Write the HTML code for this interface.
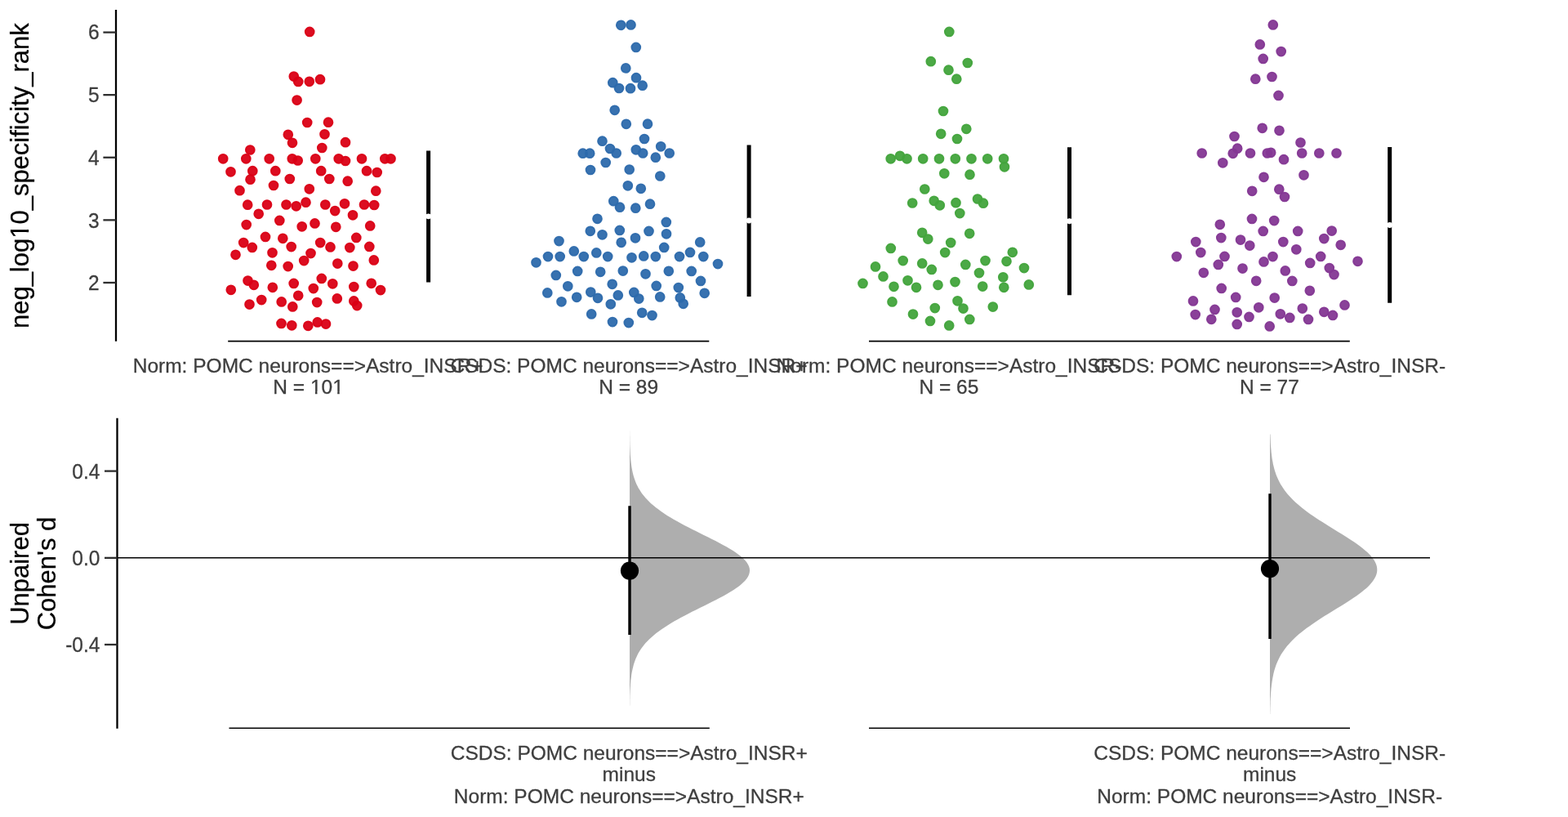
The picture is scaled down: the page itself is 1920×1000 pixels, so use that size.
<!DOCTYPE html>
<html lang="en">
<head>
<meta charset="utf-8">
<title>Estimation plot</title>
<style>
html,body{margin:0;padding:0;background:#fff;}
body{width:1920px;height:1000px;overflow:hidden;}
svg{display:block;font-family:"Liberation Sans",Arial,Helvetica,sans-serif;}
.tick{fill:#3e3e3e;stroke:#3e3e3e;stroke-width:0.3px;font-size:24.5px;}
.ylab{fill:#000;stroke:#000;stroke-width:0.25px;font-size:31.0px;}
</style>
</head>
<body>
<svg width="1920" height="1000" viewBox="0 0 1920 1000">
<rect width="1920" height="1000" fill="#fff"/>

<!-- swarm plot -->
<g class="swarm g1" fill="#da0015" stroke="#da0015" stroke-width="1.8" fill-opacity="0.95" stroke-opacity="0.95">
<circle cx="379.2" cy="38.9" r="5.45"/><circle cx="359.8" cy="93.6" r="5.45"/><circle cx="365.2" cy="99.9" r="5.45"/><circle cx="378.8" cy="99.8" r="5.45"/><circle cx="392.0" cy="97.2" r="5.45"/><circle cx="363.6" cy="122.6" r="5.45"/><circle cx="376.2" cy="150.0" r="5.45"/><circle cx="402.0" cy="149.7" r="5.45"/>
<circle cx="352.8" cy="164.8" r="5.45"/><circle cx="397.5" cy="164.3" r="5.45"/><circle cx="358.0" cy="174.8" r="5.45"/><circle cx="423.0" cy="174.2" r="5.45"/><circle cx="394.3" cy="181.0" r="5.45"/><circle cx="306.3" cy="183.5" r="5.45"/><circle cx="273.2" cy="194.3" r="5.45"/><circle cx="301.3" cy="194.3" r="5.45"/>
<circle cx="329.7" cy="194.3" r="5.45"/><circle cx="357.8" cy="194.3" r="5.45"/><circle cx="364.7" cy="196.5" r="5.45"/><circle cx="386.3" cy="194.3" r="5.45"/><circle cx="414.7" cy="194.3" r="5.45"/><circle cx="423.0" cy="197.0" r="5.45"/><circle cx="443.0" cy="194.3" r="5.45"/><circle cx="471.3" cy="194.3" r="5.45"/>
<circle cx="478.5" cy="194.3" r="5.45"/><circle cx="282.5" cy="210.3" r="5.45"/><circle cx="309.3" cy="209.2" r="5.45"/><circle cx="337.3" cy="209.2" r="5.45"/><circle cx="393.2" cy="209.2" r="5.45"/><circle cx="449.0" cy="209.2" r="5.45"/><circle cx="461.7" cy="211.0" r="5.45"/><circle cx="306.5" cy="219.7" r="5.45"/>
<circle cx="354.8" cy="219.0" r="5.45"/><circle cx="403.3" cy="219.0" r="5.45"/><circle cx="425.7" cy="221.7" r="5.45"/><circle cx="335.0" cy="227.0" r="5.45"/><circle cx="378.8" cy="231.3" r="5.45"/><circle cx="293.5" cy="233.2" r="5.45"/><circle cx="460.3" cy="233.7" r="5.45"/><circle cx="303.2" cy="250.7" r="5.45"/>
<circle cx="327.0" cy="250.5" r="5.45"/><circle cx="350.5" cy="250.5" r="5.45"/><circle cx="362.7" cy="252.3" r="5.45"/><circle cx="374.5" cy="247.7" r="5.45"/><circle cx="398.3" cy="250.5" r="5.45"/><circle cx="422.0" cy="249.3" r="5.45"/><circle cx="446.0" cy="250.5" r="5.45"/><circle cx="458.2" cy="251.0" r="5.45"/>
<circle cx="410.2" cy="258.1" r="5.45"/><circle cx="316.7" cy="261.8" r="5.45"/><circle cx="432.0" cy="263.3" r="5.45"/><circle cx="342.3" cy="269.9" r="5.45"/><circle cx="301.7" cy="275.1" r="5.45"/><circle cx="385.5" cy="273.4" r="5.45"/><circle cx="369.7" cy="277.3" r="5.45"/><circle cx="411.3" cy="277.8" r="5.45"/>
<circle cx="453.2" cy="276.4" r="5.45"/><circle cx="325.0" cy="289.9" r="5.45"/><circle cx="346.3" cy="291.8" r="5.45"/><circle cx="436.3" cy="290.9" r="5.45"/><circle cx="298.2" cy="297.1" r="5.45"/><circle cx="392.2" cy="297.1" r="5.45"/><circle cx="308.8" cy="302.9" r="5.45"/><circle cx="356.7" cy="302.1" r="5.45"/>
<circle cx="404.5" cy="302.4" r="5.45"/><circle cx="428.3" cy="303.1" r="5.45"/><circle cx="452.3" cy="301.9" r="5.45"/><circle cx="333.5" cy="309.3" r="5.45"/><circle cx="380.5" cy="310.1" r="5.45"/><circle cx="288.5" cy="311.8" r="5.45"/><circle cx="372.2" cy="319.1" r="5.45"/><circle cx="457.8" cy="318.4" r="5.45"/>
<circle cx="332.3" cy="324.8" r="5.45"/><circle cx="352.7" cy="326.1" r="5.45"/><circle cx="413.3" cy="322.6" r="5.45"/><circle cx="432.5" cy="325.6" r="5.45"/><circle cx="393.8" cy="340.9" r="5.45"/><circle cx="303.5" cy="343.6" r="5.45"/><circle cx="310.8" cy="348.8" r="5.45"/><circle cx="359.7" cy="346.9" r="5.45"/>
<circle cx="407.3" cy="347.3" r="5.45"/><circle cx="454.7" cy="346.8" r="5.45"/><circle cx="333.8" cy="351.8" r="5.45"/><circle cx="383.8" cy="353.1" r="5.45"/><circle cx="433.3" cy="351.1" r="5.45"/><circle cx="282.8" cy="354.8" r="5.45"/><circle cx="466.0" cy="355.1" r="5.45"/><circle cx="365.2" cy="361.8" r="5.45"/>
<circle cx="320.2" cy="367.1" r="5.45"/><circle cx="412.8" cy="365.4" r="5.45"/><circle cx="433.3" cy="368.4" r="5.45"/><circle cx="344.7" cy="369.4" r="5.45"/><circle cx="388.2" cy="370.1" r="5.45"/><circle cx="305.5" cy="372.6" r="5.45"/><circle cx="437.2" cy="374.1" r="5.45"/><circle cx="358.3" cy="375.4" r="5.45"/>
<circle cx="344.5" cy="395.9" r="5.45"/><circle cx="357.3" cy="398.3" r="5.45"/><circle cx="377.3" cy="398.8" r="5.45"/><circle cx="388.7" cy="394.4" r="5.45"/><circle cx="399.0" cy="396.6" r="5.45"/>
</g>
<g class="swarm g2" fill="#2d6aac" stroke="#2d6aac" stroke-width="1.8" fill-opacity="0.95" stroke-opacity="0.95">
<circle cx="760.3" cy="30.8" r="5.45"/><circle cx="772.5" cy="30.4" r="5.45"/><circle cx="778.8" cy="57.9" r="5.45"/><circle cx="766.3" cy="83.4" r="5.45"/><circle cx="779.0" cy="95.2" r="5.45"/><circle cx="750.3" cy="101.2" r="5.45"/><circle cx="758.0" cy="108.0" r="5.45"/><circle cx="772.0" cy="108.2" r="5.45"/>
<circle cx="786.7" cy="104.7" r="5.45"/><circle cx="752.7" cy="134.8" r="5.45"/><circle cx="766.8" cy="151.8" r="5.45"/><circle cx="793.0" cy="151.7" r="5.45"/><circle cx="789.0" cy="170.0" r="5.45"/><circle cx="737.5" cy="172.7" r="5.45"/><circle cx="809.2" cy="179.3" r="5.45"/><circle cx="747.0" cy="182.0" r="5.45"/>
<circle cx="778.8" cy="183.3" r="5.45"/><circle cx="713.7" cy="187.7" r="5.45"/><circle cx="722.2" cy="187.7" r="5.45"/><circle cx="754.7" cy="187.5" r="5.45"/><circle cx="787.2" cy="187.5" r="5.45"/><circle cx="819.7" cy="187.5" r="5.45"/><circle cx="802.8" cy="192.7" r="5.45"/><circle cx="741.7" cy="199.0" r="5.45"/>
<circle cx="723.0" cy="208.0" r="5.45"/><circle cx="770.7" cy="207.5" r="5.45"/><circle cx="808.3" cy="215.5" r="5.45"/><circle cx="768.8" cy="227.3" r="5.45"/><circle cx="784.8" cy="230.8" r="5.45"/><circle cx="751.3" cy="246.2" r="5.45"/><circle cx="759.0" cy="253.7" r="5.45"/><circle cx="778.3" cy="254.7" r="5.45"/>
<circle cx="796.0" cy="249.7" r="5.45"/><circle cx="731.5" cy="267.8" r="5.45"/><circle cx="815.8" cy="271.9" r="5.45"/><circle cx="722.8" cy="282.8" r="5.45"/><circle cx="737.5" cy="287.3" r="5.45"/><circle cx="758.8" cy="281.9" r="5.45"/><circle cx="794.5" cy="282.9" r="5.45"/><circle cx="816.0" cy="286.3" r="5.45"/>
<circle cx="778.0" cy="291.3" r="5.45"/><circle cx="684.5" cy="295.1" r="5.45"/><circle cx="760.7" cy="296.8" r="5.45"/><circle cx="857.2" cy="296.4" r="5.45"/><circle cx="813.2" cy="302.9" r="5.45"/><circle cx="702.8" cy="307.4" r="5.45"/><circle cx="730.3" cy="309.4" r="5.45"/><circle cx="845.0" cy="308.9" r="5.45"/>
<circle cx="671.0" cy="314.1" r="5.45"/><circle cx="685.7" cy="314.1" r="5.45"/><circle cx="714.8" cy="314.1" r="5.45"/><circle cx="744.2" cy="314.1" r="5.45"/><circle cx="773.5" cy="315.3" r="5.45"/><circle cx="788.2" cy="313.4" r="5.45"/><circle cx="802.8" cy="314.1" r="5.45"/><circle cx="832.0" cy="314.1" r="5.45"/>
<circle cx="861.3" cy="314.1" r="5.45"/><circle cx="656.5" cy="321.3" r="5.45"/><circle cx="879.0" cy="323.1" r="5.45"/><circle cx="707.2" cy="331.9" r="5.45"/><circle cx="735.2" cy="332.8" r="5.45"/><circle cx="762.8" cy="331.6" r="5.45"/><circle cx="790.5" cy="335.3" r="5.45"/><circle cx="818.8" cy="331.8" r="5.45"/>
<circle cx="846.7" cy="331.9" r="5.45"/><circle cx="680.8" cy="336.9" r="5.45"/><circle cx="749.7" cy="347.8" r="5.45"/><circle cx="695.3" cy="350.3" r="5.45"/><circle cx="803.7" cy="349.9" r="5.45"/><circle cx="858.0" cy="343.9" r="5.45"/><circle cx="830.8" cy="352.1" r="5.45"/><circle cx="670.3" cy="358.4" r="5.45"/>
<circle cx="723.3" cy="357.6" r="5.45"/><circle cx="776.3" cy="357.9" r="5.45"/><circle cx="862.7" cy="358.8" r="5.45"/><circle cx="756.8" cy="361.4" r="5.45"/><circle cx="706.2" cy="363.8" r="5.45"/><circle cx="732.0" cy="364.8" r="5.45"/><circle cx="782.3" cy="365.6" r="5.45"/><circle cx="808.2" cy="363.4" r="5.45"/>
<circle cx="832.8" cy="364.4" r="5.45"/><circle cx="687.5" cy="369.3" r="5.45"/><circle cx="747.8" cy="372.3" r="5.45"/><circle cx="836.7" cy="371.8" r="5.45"/><circle cx="724.2" cy="384.4" r="5.45"/><circle cx="786.2" cy="382.8" r="5.45"/><circle cx="798.5" cy="386.1" r="5.45"/><circle cx="750.0" cy="394.1" r="5.45"/>
<circle cx="769.8" cy="395.1" r="5.45"/>
</g>
<g class="swarm g3" fill="#42a43c" stroke="#42a43c" stroke-width="1.8" fill-opacity="0.95" stroke-opacity="0.95">
<circle cx="1162.3" cy="38.9" r="5.45"/><circle cx="1139.8" cy="75.2" r="5.45"/><circle cx="1184.8" cy="77.0" r="5.45"/><circle cx="1161.5" cy="85.7" r="5.45"/><circle cx="1171.3" cy="96.7" r="5.45"/><circle cx="1155.0" cy="136.0" r="5.45"/><circle cx="1183.3" cy="157.8" r="5.45"/><circle cx="1152.2" cy="163.8" r="5.45"/>
<circle cx="1172.0" cy="170.0" r="5.45"/><circle cx="1090.7" cy="194.3" r="5.45"/><circle cx="1102.0" cy="190.8" r="5.45"/><circle cx="1110.5" cy="194.3" r="5.45"/><circle cx="1130.2" cy="194.3" r="5.45"/><circle cx="1150.0" cy="194.3" r="5.45"/><circle cx="1169.8" cy="194.3" r="5.45"/><circle cx="1189.5" cy="194.3" r="5.45"/>
<circle cx="1209.2" cy="194.3" r="5.45"/><circle cx="1229.0" cy="194.3" r="5.45"/><circle cx="1230.0" cy="204.3" r="5.45"/><circle cx="1156.3" cy="212.3" r="5.45"/><circle cx="1187.5" cy="213.7" r="5.45"/><circle cx="1132.3" cy="231.5" r="5.45"/><circle cx="1117.2" cy="248.5" r="5.45"/><circle cx="1143.7" cy="245.8" r="5.45"/>
<circle cx="1150.8" cy="251.3" r="5.45"/><circle cx="1170.5" cy="248.2" r="5.45"/><circle cx="1197.0" cy="243.5" r="5.45"/><circle cx="1204.0" cy="248.7" r="5.45"/><circle cx="1175.3" cy="261.1" r="5.45"/><circle cx="1129.2" cy="284.8" r="5.45"/><circle cx="1136.3" cy="292.6" r="5.45"/><circle cx="1187.2" cy="285.8" r="5.45"/>
<circle cx="1164.2" cy="297.1" r="5.45"/><circle cx="1090.8" cy="303.9" r="5.45"/><circle cx="1157.2" cy="309.1" r="5.45"/><circle cx="1239.8" cy="308.8" r="5.45"/><circle cx="1105.7" cy="319.1" r="5.45"/><circle cx="1129.2" cy="322.4" r="5.45"/><circle cx="1206.5" cy="319.1" r="5.45"/><circle cx="1232.5" cy="319.8" r="5.45"/>
<circle cx="1182.3" cy="323.9" r="5.45"/><circle cx="1072.0" cy="326.4" r="5.45"/><circle cx="1140.8" cy="329.9" r="5.45"/><circle cx="1254.0" cy="328.1" r="5.45"/><circle cx="1199.0" cy="334.1" r="5.45"/><circle cx="1081.5" cy="338.4" r="5.45"/><circle cx="1228.3" cy="339.3" r="5.45"/><circle cx="1111.5" cy="343.3" r="5.45"/>
<circle cx="1169.5" cy="345.1" r="5.45"/><circle cx="1056.5" cy="346.9" r="5.45"/><circle cx="1148.5" cy="348.8" r="5.45"/><circle cx="1259.8" cy="348.4" r="5.45"/><circle cx="1094.5" cy="350.8" r="5.45"/><circle cx="1122.0" cy="351.8" r="5.45"/><circle cx="1203.2" cy="350.6" r="5.45"/><circle cx="1229.3" cy="351.8" r="5.45"/>
<circle cx="1092.5" cy="369.4" r="5.45"/><circle cx="1172.5" cy="368.3" r="5.45"/><circle cx="1144.8" cy="377.1" r="5.45"/><circle cx="1179.5" cy="377.6" r="5.45"/><circle cx="1215.8" cy="375.6" r="5.45"/><circle cx="1118.0" cy="384.6" r="5.45"/><circle cx="1139.0" cy="392.9" r="5.45"/><circle cx="1187.3" cy="390.9" r="5.45"/>
<circle cx="1162.2" cy="398.4" r="5.45"/>
</g>
<g class="swarm g4" fill="#843794" stroke="#843794" stroke-width="1.8" fill-opacity="0.95" stroke-opacity="0.95">
<circle cx="1558.8" cy="30.4" r="5.45"/><circle cx="1542.8" cy="54.4" r="5.45"/><circle cx="1568.7" cy="63.1" r="5.45"/><circle cx="1546.7" cy="71.9" r="5.45"/><circle cx="1537.3" cy="96.7" r="5.45"/><circle cx="1557.5" cy="94.0" r="5.45"/><circle cx="1565.5" cy="116.9" r="5.45"/><circle cx="1545.7" cy="156.8" r="5.45"/>
<circle cx="1566.5" cy="159.8" r="5.45"/><circle cx="1511.5" cy="167.0" r="5.45"/><circle cx="1592.5" cy="174.5" r="5.45"/><circle cx="1515.2" cy="181.7" r="5.45"/><circle cx="1471.7" cy="187.5" r="5.45"/><circle cx="1509.7" cy="187.8" r="5.45"/><circle cx="1531.0" cy="187.5" r="5.45"/><circle cx="1551.8" cy="187.5" r="5.45"/>
<circle cx="1556.2" cy="186.8" r="5.45"/><circle cx="1594.2" cy="187.5" r="5.45"/><circle cx="1615.3" cy="187.5" r="5.45"/><circle cx="1636.5" cy="187.5" r="5.45"/><circle cx="1572.0" cy="195.2" r="5.45"/><circle cx="1497.3" cy="199.3" r="5.45"/><circle cx="1547.5" cy="216.8" r="5.45"/><circle cx="1596.5" cy="214.3" r="5.45"/>
<circle cx="1533.2" cy="233.8" r="5.45"/><circle cx="1566.3" cy="231.7" r="5.45"/><circle cx="1573.0" cy="241.0" r="5.45"/><circle cx="1533.0" cy="267.9" r="5.45"/><circle cx="1560.2" cy="270.1" r="5.45"/><circle cx="1493.8" cy="274.8" r="5.45"/><circle cx="1546.7" cy="282.9" r="5.45"/><circle cx="1589.2" cy="282.9" r="5.45"/>
<circle cx="1630.7" cy="282.6" r="5.45"/><circle cx="1495.3" cy="291.1" r="5.45"/><circle cx="1519.0" cy="293.6" r="5.45"/><circle cx="1621.3" cy="292.1" r="5.45"/><circle cx="1464.3" cy="296.1" r="5.45"/><circle cx="1571.3" cy="296.1" r="5.45"/><circle cx="1530.3" cy="300.6" r="5.45"/><circle cx="1641.7" cy="299.8" r="5.45"/>
<circle cx="1587.3" cy="305.3" r="5.45"/><circle cx="1470.3" cy="309.1" r="5.45"/><circle cx="1440.8" cy="314.1" r="5.45"/><circle cx="1499.5" cy="313.9" r="5.45"/><circle cx="1558.5" cy="314.1" r="5.45"/><circle cx="1617.2" cy="313.9" r="5.45"/><circle cx="1662.5" cy="319.8" r="5.45"/><circle cx="1547.5" cy="320.4" r="5.45"/>
<circle cx="1604.2" cy="321.9" r="5.45"/><circle cx="1491.8" cy="323.9" r="5.45"/><circle cx="1521.5" cy="328.6" r="5.45"/><circle cx="1627.8" cy="328.1" r="5.45"/><circle cx="1573.8" cy="331.4" r="5.45"/><circle cx="1473.8" cy="333.8" r="5.45"/><circle cx="1633.5" cy="336.1" r="5.45"/><circle cx="1538.2" cy="343.8" r="5.45"/>
<circle cx="1582.3" cy="343.9" r="5.45"/><circle cx="1495.7" cy="352.9" r="5.45"/><circle cx="1603.8" cy="355.8" r="5.45"/><circle cx="1513.2" cy="363.9" r="5.45"/><circle cx="1560.7" cy="364.6" r="5.45"/><circle cx="1461.0" cy="368.4" r="5.45"/><circle cx="1646.5" cy="373.4" r="5.45"/><circle cx="1541.3" cy="376.3" r="5.45"/>
<circle cx="1594.8" cy="377.6" r="5.45"/><circle cx="1487.5" cy="378.9" r="5.45"/><circle cx="1514.7" cy="382.3" r="5.45"/><circle cx="1621.3" cy="381.8" r="5.45"/><circle cx="1463.7" cy="385.1" r="5.45"/><circle cx="1567.8" cy="384.3" r="5.45"/><circle cx="1632.0" cy="385.9" r="5.45"/><circle cx="1529.5" cy="387.9" r="5.45"/>
<circle cx="1579.3" cy="388.9" r="5.45"/><circle cx="1483.3" cy="390.8" r="5.45"/><circle cx="1602.0" cy="390.9" r="5.45"/><circle cx="1514.7" cy="396.9" r="5.45"/><circle cx="1554.7" cy="399.4" r="5.45"/>
</g>
<g stroke="#000" stroke-width="5" fill="none"><path d="M524.6,184.5V345.5"/><path d="M917.1,177.5V363"/><path d="M1309.5,180.3V361.2"/><path d="M1701.7,180V370.8"/></g><g fill="#fff"><circle cx="524.6" cy="264.85" r="3.45"/><circle cx="917.1" cy="269.95" r="3.45"/><circle cx="1309.5" cy="270.75" r="3.45"/><circle cx="1701.7" cy="275.45" r="3.45"/></g>
<g stroke="#000" fill="none">
<path d="M142,12V417.8" stroke-width="2.3"/>
<path d="M279.2,417.6H868.3M1064,417.6H1652.8" stroke-width="1.55"/>
</g>
<g stroke="#2e2e2e" stroke-width="2.3" fill="none"><path d="M126.4,39.6H142"/><path d="M126.4,116.15H142"/><path d="M126.4,192.75H142"/><path d="M126.4,269.35H142"/><path d="M126.4,346.0H142"/></g>
<text class="tick" text-anchor="end" transform="translate(121.6,48.3) scale(1,1.02)">6</text>
<text class="tick" text-anchor="end" transform="translate(121.6,125.3) scale(1,1.02)">5</text>
<text class="tick" text-anchor="end" transform="translate(121.6,202.3) scale(1,1.02)">4</text>
<text class="tick" text-anchor="end" transform="translate(121.6,279.3) scale(1,1.02)">3</text>
<text class="tick" text-anchor="end" transform="translate(121.6,355.3) scale(1,1.02)">2</text>
<text class="ylab" text-anchor="middle" transform="translate(34.6,215.2) rotate(-90) scale(1,0.985)">neg_log10_specificity_rank</text>
<text class="tick" text-anchor="middle" x="377.2" y="456">Norm: POMC neurons==&gt;Astro_INSR+</text>
<text class="tick" text-anchor="middle" x="377.6" y="482">N = 101</text>
<text class="tick" text-anchor="middle" x="770" y="456">CSDS: POMC neurons==&gt;Astro_INSR+</text>
<text class="tick" text-anchor="middle" x="769.7" y="482">N = 89</text>
<text class="tick" text-anchor="middle" x="1162" y="456">Norm: POMC neurons==&gt;Astro_INSR-</text>
<text class="tick" text-anchor="middle" x="1161.9" y="482">N = 65</text>
<text class="tick" text-anchor="middle" x="1554.7" y="456">CSDS: POMC neurons==&gt;Astro_INSR-</text>
<text class="tick" text-anchor="middle" x="1554.4" y="482">N = 77</text>
<g fill="#fff" transform="translate(34.6,215.2) rotate(-90) scale(1,0.985)"><rect x="-75.25" y="-3.22" width="6.23" height="4.72"/><rect x="-65.88" y="-3.22" width="5.99" height="4.72"/></g>
<g fill="#fff"><rect x="380.83" y="479.27" width="5.09" height="4.23"/><rect x="388.49" y="479.27" width="4.90" height="4.23"/></g>
<g fill="#fff"><rect x="408.08" y="479.27" width="5.09" height="4.23"/><rect x="415.74" y="479.27" width="4.90" height="4.23"/></g>
<!-- effect size plot -->
<path class="violin" d="M771.0,527.5L771.1,527.5L771.1,529.9L771.1,532.3L771.2,534.7L771.2,537.1L771.2,539.5L771.3,541.9L771.3,544.3L771.4,546.7L771.5,549.1L771.6,551.5L771.7,553.9L771.8,556.3L772.0,558.7L772.2,561.1L772.4,563.6L772.7,566.0L773.0,568.4L773.3,570.8L773.7,573.2L774.1,575.6L774.6,578.0L775.2,580.4L775.8,582.8L776.6,585.2L777.4,587.6L778.3,590.0L779.3,592.4L780.5,594.8L781.7,597.2L783.2,599.6L784.7,602.0L786.4,604.4L788.3,606.8L790.3,609.2L792.5,611.6L794.9,614.0L797.4,616.4L800.2,618.8L803.2,621.2L806.3,623.6L809.6,626.0L813.2,628.5L816.9,630.9L820.8,633.3L824.9,635.7L829.1,638.1L833.5,640.5L838.0,642.9L842.6,645.3L847.3,647.7L852.1,650.1L856.9,652.5L861.8,654.9L866.6,657.3L871.4,659.7L876.1,662.1L880.7,664.5L885.2,666.9L889.6,669.3L893.7,671.7L897.6,674.1L901.2,676.5L904.5,678.9L907.6,681.3L910.2,683.7L912.5,686.1L914.5,688.5L916.0,690.9L917.1,693.3L917.8,695.8L918.0,698.2L917.8,700.6L917.2,703.0L916.1,705.4L914.7,707.8L912.8,710.2L910.5,712.6L907.9,715.0L904.9,717.4L901.6,719.8L898.0,722.2L894.2,724.6L890.1,727.0L885.8,729.4L881.3,731.8L876.7,734.2L872.0,736.6L867.2,739.0L862.3,741.4L857.5,743.8L852.7,746.2L847.9,748.6L843.2,751.0L838.5,753.4L834.0,755.8L829.6,758.2L825.4,760.6L821.3,763.0L817.4,765.5L813.6,767.9L810.1,770.3L806.7,772.7L803.5,775.1L800.6,777.5L797.8,779.9L795.2,782.3L792.8,784.7L790.5,787.1L788.5,789.5L786.6,791.9L784.9,794.3L783.3,796.7L781.9,799.1L780.6,801.5L779.5,803.9L778.4,806.3L777.5,808.7L776.7,811.1L775.9,813.5L775.3,815.9L774.7,818.3L774.2,820.7L773.7,823.1L773.3,825.5L773.0,827.9L772.7,830.4L772.4,832.8L772.2,835.2L772.0,837.6L771.9,840.0L771.7,842.4L771.6,844.8L771.5,847.2L771.4,849.6L771.3,852.0L771.3,854.4L771.2,856.8L771.2,859.2L771.2,861.6L771.1,864.0L771.0,864.0Z" fill="#aeaeae"/>
<path class="violin" d="M1555.0,531.5L1555.4,531.5L1555.5,533.9L1555.6,536.4L1555.7,538.8L1555.8,541.3L1555.9,543.7L1556.1,546.2L1556.3,548.6L1556.5,551.1L1556.7,553.5L1557.0,556.0L1557.3,558.4L1557.6,560.9L1558.0,563.3L1558.5,565.8L1558.9,568.2L1559.5,570.6L1560.1,573.1L1560.8,575.5L1561.6,578.0L1562.4,580.4L1563.4,582.9L1564.4,585.3L1565.5,587.8L1566.8,590.2L1568.1,592.7L1569.6,595.1L1571.2,597.6L1572.9,600.0L1574.8,602.4L1576.8,604.9L1578.9,607.3L1581.2,609.8L1583.6,612.2L1586.2,614.7L1588.9,617.1L1591.8,619.6L1594.8,622.0L1598.0,624.5L1601.3,626.9L1604.7,629.4L1608.2,631.8L1611.8,634.2L1615.6,636.7L1619.4,639.1L1623.3,641.6L1627.2,644.0L1631.2,646.5L1635.2,648.9L1639.2,651.4L1643.1,653.8L1647.0,656.3L1650.9,658.7L1654.7,661.2L1658.3,663.6L1661.8,666.1L1665.2,668.5L1668.4,670.9L1671.3,673.4L1674.1,675.8L1676.6,678.3L1678.9,680.7L1680.8,683.2L1682.5,685.6L1683.9,688.1L1685.0,690.5L1685.8,693.0L1686.2,695.4L1686.3,697.9L1686.1,700.3L1685.5,702.8L1684.6,705.2L1683.4,707.6L1681.9,710.1L1680.1,712.5L1678.0,715.0L1675.7,717.4L1673.1,719.9L1670.2,722.3L1667.2,724.8L1663.9,727.2L1660.5,729.7L1657.0,732.1L1653.3,734.6L1649.5,737.0L1645.6,739.4L1641.6,741.9L1637.7,744.3L1633.7,746.8L1629.7,749.2L1625.7,751.7L1621.8,754.1L1618.0,756.6L1614.2,759.0L1610.5,761.5L1606.9,763.9L1603.4,766.4L1600.0,768.8L1596.8,771.2L1593.7,773.7L1590.7,776.1L1587.9,778.6L1585.2,781.0L1582.7,783.5L1580.3,785.9L1578.1,788.4L1576.0,790.8L1574.1,793.3L1572.3,795.7L1570.6,798.2L1569.0,800.6L1567.6,803.1L1566.3,805.5L1565.1,807.9L1564.0,810.4L1563.0,812.8L1562.1,815.3L1561.3,817.7L1560.5,820.2L1559.9,822.6L1559.3,825.1L1558.8,827.5L1558.3,830.0L1557.9,832.4L1557.5,834.9L1557.2,837.3L1556.9,839.8L1556.6,842.2L1556.4,844.6L1556.2,847.1L1556.0,849.5L1555.9,852.0L1555.7,854.4L1555.6,856.9L1555.5,859.3L1555.5,861.8L1555.4,864.2L1555.3,866.7L1555.3,869.1L1555.2,871.6L1555.2,874.0L1555.0,874.0Z" fill="#aeaeae"/>
<g stroke="#000" fill="none">
<path d="M143.5,511.8V891.8" stroke-width="2.3"/>
<path d="M143.5,682.75H1751" stroke-width="1.5"/>
<path d="M280.5,891.2H868.8M1064,891.2H1653" stroke-width="1.6"/>
<path d="M771,619.3V777M1555,604.2V782.1" stroke-width="3.4"/>
</g>
<circle cx="771" cy="698.6" r="11.1" fill="#000"/><circle cx="1555" cy="696.1" r="11.1" fill="#000"/>
<g stroke="#2e2e2e" stroke-width="2.3" fill="none"><path d="M128,576.6H143.5"/><path d="M128,682.85H143.5"/><path d="M128,789.0H143.5"/></g>
<text class="tick" text-anchor="end" transform="translate(122.4,585.8) scale(1,1.02)">0.4</text>
<text class="tick" text-anchor="end" transform="translate(122.4,691.8) scale(1,1.02)">0.0</text>
<text class="tick" text-anchor="end" transform="translate(122.4,797.8) scale(1,1.02)">-0.4</text>
<text class="ylab" text-anchor="middle" transform="translate(34.6,702) rotate(-90) scale(1,0.985)">Unpaired</text>
<text class="ylab" text-anchor="middle" transform="translate(68.4,702) rotate(-90) scale(1,0.985)">Cohen's d</text>
<text class="tick" text-anchor="middle" x="770.3" y="930">CSDS: POMC neurons==&gt;Astro_INSR+</text>
<text class="tick" text-anchor="middle" x="770.3" y="956">minus</text>
<text class="tick" text-anchor="middle" x="770.3" y="983">Norm: POMC neurons==&gt;Astro_INSR+</text>
<text class="tick" text-anchor="middle" x="1554.7" y="930">CSDS: POMC neurons==&gt;Astro_INSR-</text>
<text class="tick" text-anchor="middle" x="1554.7" y="956">minus</text>
<text class="tick" text-anchor="middle" x="1554.7" y="983">Norm: POMC neurons==&gt;Astro_INSR-</text>
</svg>
</body>
</html>
